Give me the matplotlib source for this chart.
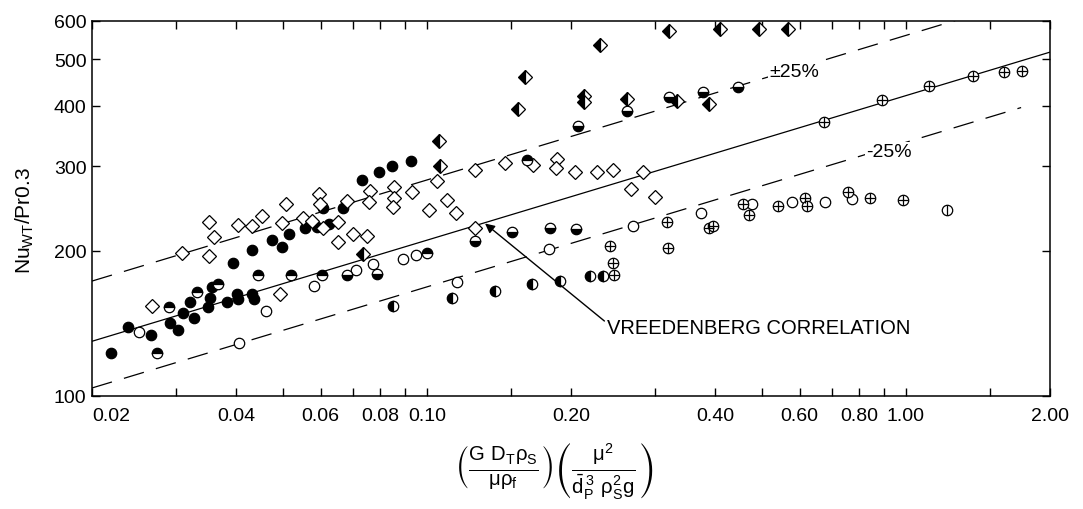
import matplotlib
matplotlib.use('Agg')
import numpy as np
import matplotlib.pyplot as plt
from matplotlib.ticker import FixedLocator, FixedFormatter, NullLocator

plt.rcParams['font.family'] = ['Liberation Sans', 'DejaVu Sans']
plt.rcParams['mathtext.fontset'] = 'dejavusans'
plt.rcParams['mathtext.default'] = 'regular'
plt.rcParams['lines.scale_dashes'] = False

# --- data, read as (group parameter, Nu_WT/Pr^0.3) ---
# solid black circles
fill_x = [0.0219, 0.0238, 0.0266, 0.0291, 0.0302, 0.0310, 0.0327, 0.0320, 0.0349, 0.0353,
          0.0356, 0.0383, 0.0402, 0.0404, 0.0432, 0.0436, 0.0394, 0.0432, 0.0475, 0.0499,
          0.0516, 0.0557, 0.0590, 0.0625, 0.0668, 0.0607, 0.0732, 0.0795, 0.0846, 0.0927]
fill_y = [123, 139, 134, 142, 137, 149, 145, 157, 153, 160,
          168, 157, 163, 159, 163, 159, 189, 201, 211, 204,
          217, 223, 224, 227, 245, 245, 281, 292, 300, 307]

# open diamonds
dia_x = [0.0267, 0.0308, 0.0351, 0.0359, 0.0351, 0.0404, 0.0432, 0.0453, 0.0499, 0.0508,
         0.0494, 0.0551, 0.0576, 0.0596, 0.0598, 0.0607, 0.0652, 0.0652, 0.0681, 0.0701,
         0.0750, 0.0761, 0.0757, 0.0854, 0.0854, 0.0850, 0.0931, 0.1050, 0.1011, 0.1102,
         0.1151, 0.1261, 0.1261, 0.1456, 0.1666, 0.1870, 0.1861, 0.2039, 0.2266, 0.2447,
         0.2828, 0.2669, 0.2995]
dia_y = [154, 198, 230, 214, 195, 226, 225, 236, 229, 250,
         163, 234, 231, 262, 250, 223, 230, 209, 254, 217,
         215, 266, 253, 271, 258, 247, 265, 279, 243, 255,
         240, 223, 294, 304, 301, 310, 297, 292, 292, 294,
         292, 269, 259]

# open circles
open_x = [0.0251, 0.0405, 0.0462, 0.0581, 0.0712, 0.0772, 0.0892, 0.0949, 0.1156, 0.1800,
          0.2695, 0.3737, 0.4775, 0.5787, 0.6782, 0.7722]
open_y = [136, 129, 150, 169, 183, 188, 192, 196, 172, 202,
          225, 240, 250, 253, 253, 256]

# circles, upper half black
top_x = [0.0273, 0.0290, 0.0331, 0.0366, 0.0444, 0.0521, 0.0604, 0.1001, 0.1619]
top_y = [123, 153, 164, 171, 178, 178, 178, 198, 309]

# circles, lower half black
bot_x = [0.0681, 0.0787, 0.1261, 0.1506, 0.1809, 0.2048, 0.2068, 0.2618, 0.3203, 0.3772, 0.4464]
bot_y = [178, 179, 210, 219, 223, 222, 363, 390, 417, 427, 438]

# circles, left half black
half_x = [0.0850, 0.1129, 0.1388, 0.1658, 0.1897, 0.2191, 0.2333]
half_y = [154, 160, 165, 171, 173, 177, 177]

# circles with a cross
plus_x = [0.2412, 0.2447, 0.2459, 0.3172, 0.3187, 0.3883, 0.3958, 0.4573, 0.4706, 0.5410,
          0.6159, 0.6219, 0.7574, 0.8418, 0.9866, 0.6750, 0.8920, 1.118, 1.381, 1.603, 1.748]
plus_y = [205, 189, 178, 230, 203, 223, 225, 250, 237, 248,
          258, 248, 265, 258, 255, 370, 411, 440, 461, 470, 472]

# circle with a vertical bar
bar_x = [1.219]
bar_y = [243]

# diamonds, left half black
hdia_x = [0.1061, 0.1066, 0.1550, 0.1603, 0.2128, 0.2128, 0.2618, 0.2299, 0.3203, 0.3329,
          0.3883, 0.4094, 0.4938, 0.5676, 0.0736]
hdia_y = [338, 300, 394, 459, 419, 407, 413, 535, 572, 409,
          404, 577, 577, 577, 197]

# Vreedenberg correlation and the +/-25 % band
C = 420.0
xt = [0.02, 0.03, 0.04, 0.05, 0.06, 0.07, 0.08, 0.09, 0.10, 0.15,
      0.20, 0.30, 0.40, 0.50, 0.60, 0.70, 0.80, 0.90, 1.00, 1.50, 2.00]
xl = ['0.02', '', '0.04', '', '0.06', '', '0.08', '', '0.10', '',
      '0.20', '', '0.40', '', '0.60', '', '0.80', '', '1.00', '', '2.00']
yt = [100, 200, 300, 400, 500, 600]
yl = ['100', '200', '300', '400', '500', '600']

fig = plt.figure(figsize=(10.83, 5.10), dpi=100)
ax = fig.add_axes([92/1083, 113/510, 958/1083, 375/510])
ax.set_xscale('log')
ax.set_yscale('log')

xs = np.logspace(np.log10(0.02), np.log10(2.0), 200)
ax.plot(xs, C*xs**0.3, color='k', lw=0.9)
ax.plot(xs, C/0.75*xs**0.3, color='k', lw=0.9, dashes=(15, 9))
xs2 = xs[xs <= 1.75]
ax.plot(xs2, C/1.25*xs2**0.3, color='k', lw=0.9, dashes=(15, 9))

ms = 7.5
mk = dict(ls='none', mew=0.9, mec='k', clip_on=False)
ax.plot(fill_x, fill_y, marker='o', ms=ms, mfc='k', **mk)
ax.plot(dia_x, dia_y, marker='D', ms=7, mfc='w', **mk)
ax.plot(open_x, open_y, marker='o', ms=ms, mfc='w', **mk)
ax.plot(top_x, top_y, marker='o', ms=ms, mfc='k', mfcalt='w', fillstyle='top', **mk)
ax.plot(bot_x, bot_y, marker='o', ms=ms, mfc='k', mfcalt='w', fillstyle='bottom', **mk)
ax.plot(half_x, half_y, marker='o', ms=ms, mfc='k', mfcalt='w', fillstyle='left', **mk)
ax.plot(plus_x, plus_y, marker='o', ms=ms, mfc='w', **mk)
ax.plot(plus_x, plus_y, marker='+', ms=ms, **mk)
ax.plot(bar_x, bar_y, marker='o', ms=ms, mfc='w', **mk)
ax.plot(bar_x, bar_y, marker='|', ms=ms, **mk)
ax.plot(hdia_x, hdia_y, marker='D', ms=7, mfc='k', mfcalt='w', fillstyle='left', **mk)

ax.set_xlim(0.02, 2.0)
ax.set_ylim(100, 600)
ax.xaxis.set_major_locator(FixedLocator(xt))
ax.xaxis.set_major_formatter(FixedFormatter(xl))
ax.xaxis.set_minor_locator(NullLocator())
ax.yaxis.set_major_locator(FixedLocator(yt))
ax.yaxis.set_major_formatter(FixedFormatter(yl))
ax.yaxis.set_minor_locator(NullLocator())
ax.tick_params(axis='both', direction='in', length=6, width=1, top=True, right=True,
               labelsize=14)
ax.tick_params(axis='x', pad=8)
ax.tick_params(axis='y', pad=4)
ax.get_xticklabels()[0].set_ha('left')
for s in ax.spines.values():
    s.set_linewidth(1.1)

# band labels sit on the dashed lines, which break around them
box = dict(facecolor='w', edgecolor='none', pad=1)
ax.text(0.52, 472, '±25%', fontsize=14, ha='left', va='center', bbox=box)
ax.text(0.826, 321, '-25%', fontsize=14, ha='left', va='center', bbox=box)
ax.annotate('VREEDENBERG CORRELATION', xy=(0.1323, 228), xytext=(0.238, 139),
            fontsize=14.5, ha='left', va='center',
            arrowprops=dict(arrowstyle='-|>', color='k', lw=1, shrinkA=0, shrinkB=0,
                            relpos=(0, 0.7), mutation_scale=14))

ax.set_ylabel('Nu$_{WT}$/Pr0.3', fontsize=15)
ax.yaxis.set_label_coords(-0.058, 0.47)
fig.text(554/1083, 1 - 472/510,
         r'$\left(\frac{G\ D_T\rho_S}{\mu\rho_f}\right)\left(\frac{\mu^2}{\bar{d}_P^{\,3}\ \rho_S^2 g}\right)$',
         fontsize=21, ha='center', va='center')

fig.savefig('out.png', dpi=100)
